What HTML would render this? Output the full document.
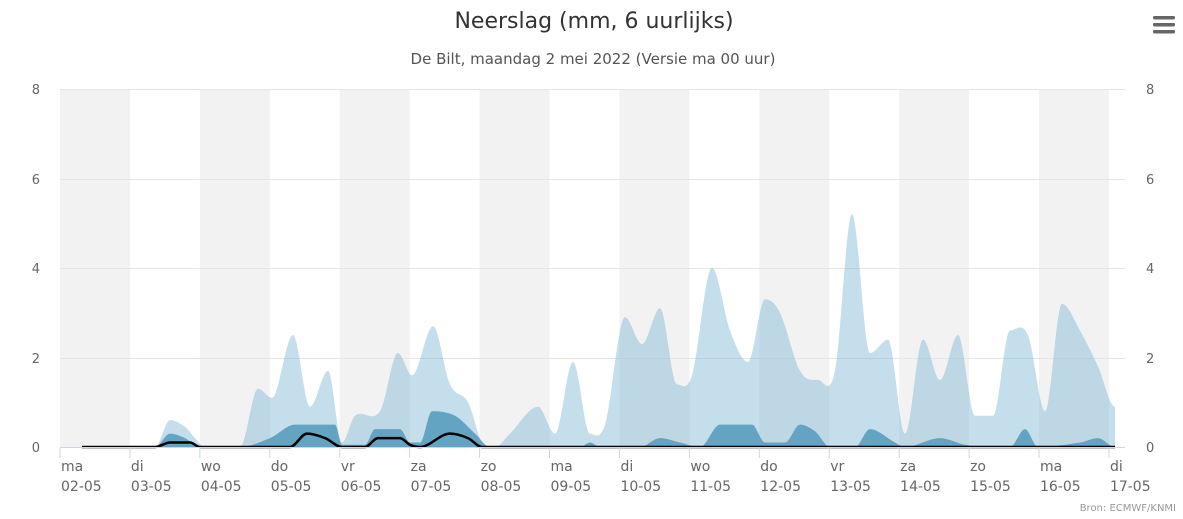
<!DOCTYPE html>
<html><head><meta charset="utf-8"><style>
body{margin:0;background:#fff;}
svg text{font-family:"DejaVu Sans","Liberation Sans",sans-serif;}
</style></head><body>
<svg id="c" width="1183" height="514" xmlns="http://www.w3.org/2000/svg">
<rect width="1183" height="514" fill="#fff"/>
<g id="bands"></g>
<g stroke="#e6e6e6" stroke-width="1">
<line x1="60" x2="1125" y1="89.5" y2="89.5"/>
<line x1="60" x2="1125" y1="179.5" y2="179.5"/>
<line x1="60" x2="1125" y1="268.5" y2="268.5"/>
<line x1="60" x2="1125" y1="358.5" y2="358.5"/>
</g>
<path id="light" fill="rgb(124,181,210)" fill-opacity="0.45"/>
<path id="dark" fill="#5a9dbf" fill-opacity="0.9"/>
<path id="blk" fill="none" stroke="#000" stroke-width="2.5" stroke-linejoin="round"/>
<line x1="60" x2="1125" y1="447.5" y2="447.5" stroke="#ccd6eb"/>
<g id="ticks" stroke="#ccd6eb"></g>
<g id="xl" fill="#666" font-size="14"></g>
<g fill="#666" font-size="13">
<text x="40" y="94" text-anchor="end">8</text><text x="40" y="184" text-anchor="end">6</text>
<text x="40" y="273" text-anchor="end">4</text><text x="40" y="363" text-anchor="end">2</text>
<text x="40" y="452" text-anchor="end">0</text>
<text x="1146" y="94">8</text><text x="1146" y="184">6</text><text x="1146" y="273">4</text><text x="1146" y="363">2</text><text x="1146" y="452">0</text>
</g>
<text x="594" y="28" text-anchor="middle" font-size="22" fill="#333">Neerslag (mm, 6 uurlijks)</text>
<text x="593" y="64" text-anchor="middle" font-size="15" fill="#555">De Bilt, maandag 2 mei 2022 (Versie ma 00 uur)</text>
<g fill="#666"><rect x="1153" y="16" width="22" height="3.5" rx="1.5"/><rect x="1153" y="23" width="22" height="3.5" rx="1.5"/><rect x="1153" y="30" width="22" height="3.5" rx="1.5"/></g>
<text x="1176" y="511" text-anchor="end" font-size="10" fill="#999">Bron: ECMWF/KNMI</text>
</svg>
<script>
var ns="http://www.w3.org/2000/svg";
function el(p,t,a,txt){var e=document.createElementNS(ns,t);for(var k in a)e.setAttribute(k,a[k]);if(txt)e.textContent=txt;document.getElementById(p).appendChild(e);}
var W=69.93;
for(var i=0;i<15;i+=2)el("bands","rect",{x:60+i*W,y:89,width:W,height:358,fill:"#f2f2f2"});
var days=["ma","di","wo","do","vr","za","zo"];
for(var i=0;i<=15;i++){var x=60+i*W;el("ticks","line",{x1:x,x2:x,y1:448,y2:458});
var d=2+i;el("xl","text",{x:x+1,y:471},days[i%7]);el("xl","text",{x:x+1,y:491},(d<10?"0":"")+d+"-05");}
function Y(v){return 447-v*44.75;}
function tan(pts,i){var a=pts[Math.max(i-1,0)],b=pts[Math.min(i+1,pts.length-1)];var p=pts[i];
if(i==0||i==pts.length-1)return 0;
var s1=(p[1]-a[1])/(p[0]-a[0]),s2=(b[1]-p[1])/(b[0]-p[0]);if(s1*s2<=0)return 0;return (b[1]-a[1])/(b[0]-a[0]);}
function smooth(pts){var s="M"+pts[0][0]+","+Y(pts[0][1]);for(var i=0;i<pts.length-1;i++){var p1=pts[i],p2=pts[i+1],dx=(p2[0]-p1[0])/3;
var c1y=Math.max(0,p1[1]+tan(pts,i)*dx),c2y=Math.max(0,p2[1]-tan(pts,i+1)*dx);
s+=" C"+(p1[0]+dx).toFixed(1)+","+Y(c1y).toFixed(1)+" "+(p2[0]-dx).toFixed(1)+","+Y(c2y).toFixed(1)+" "+p2[0]+","+Y(p2[1]).toFixed(1);}return s;}
function area(pts){return smooth(pts)+" L"+pts[pts.length-1][0]+",447 L"+pts[0][0]+",447 Z";}
var L=[[82,0],[155,0],[170,0.6],[185,0.45],[195,0.2],[205,0],[240,0],[258,1.3],[272,1.1],[293,2.5],[310,0.9],[328,1.7],[342,0.1],[355,0.7],[380,0.8],[398,2.1],[412,1.6],[433,2.7],[450,1.4],[468,1.0],[482,0.1],[495,0],[510,0.3],[538,0.9],[555,0.3],[573,1.9],[590,0.3],[605,0.5],[625,2.9],[642,2.3],[660,3.1],[677,1.4],[692,1.6],[712,4.0],[730,2.6],[748,1.9],[765,3.3],[780,3.0],[800,1.7],[818,1.5],[835,1.7],[852,5.2],[870,2.1],[888,2.4],[905,0.3],[923,2.4],[940,1.5],[958,2.5],[975,0.7],[993,0.7],[1010,2.6],[1028,2.5],[1045,0.8],[1062,3.2],[1080,2.6],[1098,1.8],[1115,0.9]];
var D=[[82,0],[155,0],[170,0.3],[185,0.2],[200,0],[240,0],[270,0.2],[295,0.5],[335,0.5],[342,0.05],[365,0.05],[375,0.4],[400,0.4],[410,0.1],[420,0.1],[432,0.8],[455,0.7],[475,0.3],[490,0],[580,0],[590,0.1],[600,0],[640,0],[660,0.2],[680,0.1],[700,0],[720,0.5],[752,0.5],[765,0.1],[785,0.1],[800,0.5],[815,0.35],[830,0],[855,0],[870,0.4],[895,0.1],[905,0],[940,0.2],[965,0.05],[990,0],[1010,0],[1025,0.4],[1038,0],[1080,0.1],[1098,0.2],[1115,0]];
var B=[[82,0],[155,0],[170,0.1],[190,0.1],[200,0],[290,0],[307,0.3],[325,0.2],[342,0],[365,0],[378,0.2],[400,0.2],[410,0.05],[420,0],[450,0.3],[468,0.2],[482,0],[1115,0]];
document.getElementById("light").setAttribute("d",area(L));
document.getElementById("dark").setAttribute("d",area(D));
document.getElementById("blk").setAttribute("d",smooth(B));
</script>
</body></html>
